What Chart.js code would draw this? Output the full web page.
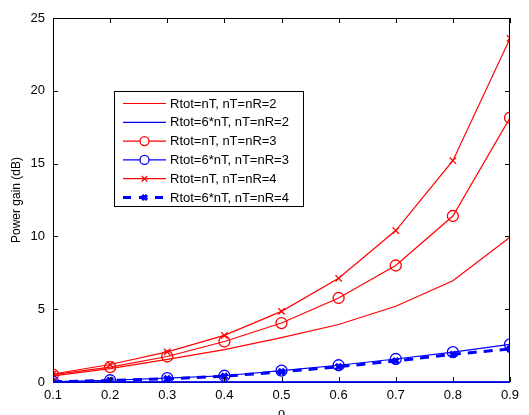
<!DOCTYPE html>
<html>
<head>
<meta charset="utf-8">
<script src="https://cdn.jsdelivr.net/npm/chart.js@4/dist/chart.umd.min.js"></script>
<style>
  html, body { margin: 0; padding: 0; background: #fff; }
  #wrap { width: 529px; height: 415px; }
</style>
</head>
<body>
<div id="wrap"><canvas id="chart" width="529" height="415"></canvas></div>
<script>
// data
const rho = [0.1, 0.2, 0.3, 0.4, 0.5, 0.6, 0.7, 0.8, 0.9];
const nT2_tot = [0.42, 0.92, 1.55, 2.22, 3.05, 3.95, 5.2, 6.95, 9.95];
const nT2_six = [0, 0, 0, 0, 0, 0, 0, 0, 0];
const nT3_tot = [0.5, 1.02, 1.75, 2.78, 4.05, 5.77, 8.0, 11.4, 18.15];
const nT3_six = [0.03, 0.12, 0.26, 0.43, 0.78, 1.15, 1.58, 2.05, 2.58];
const nT4_tot = [0.55, 1.2, 2.07, 3.2, 4.85, 7.12, 10.4, 15.2, 23.6];
const nT4_six = [0.02, 0.1, 0.22, 0.4, 0.7, 1.05, 1.45, 1.9, 2.27];
const yTicks = [0, 5, 10, 15, 20, 25];

const RED = '#ff0000';
const BLUE = '#0000ff';
const FONT = 'Liberation Sans, Arial, Helvetica, sans-serif';

function pts(arr) {
  return arr.map((v, i) => ({ x: rho[i], y: v }));
}

const datasets = [
  { label: 'Rtot=nT, nT=nR=2', data: pts(nT2_tot), borderColor: RED, borderWidth: 1.2, pointRadius: 0 },
  { label: 'Rtot=6*nT, nT=nR=2', data: pts(nT2_six), borderColor: BLUE, borderWidth: 1.2, pointRadius: 0 },
  { label: 'Rtot=nT, nT=nR=3', data: pts(nT3_tot), borderColor: RED, borderWidth: 1.2,
    pointStyle: 'circle', pointRadius: 5.5, pointBorderWidth: 1.3, pointBackgroundColor: 'rgba(0,0,0,0)' },
  { label: 'Rtot=6*nT, nT=nR=3', data: pts(nT3_six), borderColor: BLUE, borderWidth: 1.2,
    pointStyle: 'circle', pointRadius: 5.5, pointBorderWidth: 1.3, pointBackgroundColor: 'rgba(0,0,0,0)' },
  { label: 'Rtot=nT, nT=nR=4', data: pts(nT4_tot), borderColor: RED, borderWidth: 1.2,
    pointStyle: 'crossRot', pointRadius: 4.5, pointBorderWidth: 1.3 },
  { label: 'Rtot=6*nT, nT=nR=4', data: pts(nT4_six), borderColor: BLUE, borderWidth: 3, borderDash: [9, 7],
    pointStyle: 'crossRot', pointRadius: 4, pointBorderWidth: 3.2 }
];
datasets.forEach(d => {
  d.backgroundColor = d.borderColor;
  d.pointBorderColor = d.borderColor;
  d.fill = false;
  d.tension = 0;
});

// matlab-style box with inward ticks and an inset legend
const matlabFrame = {
  id: 'matlabFrame',
  afterDraw(chart) {
    const { ctx, chartArea: a, scales } = chart;
    ctx.save();
    ctx.strokeStyle = '#000';
    ctx.lineWidth = 1;
    ctx.strokeRect(a.left + 0.5, a.top + 0.5, a.right - a.left - 1, a.bottom - a.top);
    const tl = 5;
    ctx.beginPath();
    rho.forEach(v => {
      const x = Math.round(scales.x.getPixelForValue(v)) + 0.5;
      ctx.moveTo(x, a.bottom); ctx.lineTo(x, a.bottom - tl);
      ctx.moveTo(x, a.top); ctx.lineTo(x, a.top + tl);
    });
    yTicks.forEach(v => {
      const y = Math.round(scales.y.getPixelForValue(v)) + 0.5;
      ctx.moveTo(a.left, y); ctx.lineTo(a.left + tl, y);
      ctx.moveTo(a.right, y); ctx.lineTo(a.right - tl, y);
    });
    ctx.stroke();

    // redraw the nT=2 blue line over the bottom frame
    const meta = chart.getDatasetMeta(1);
    ctx.strokeStyle = BLUE;
    ctx.lineWidth = 1.5;
    ctx.beginPath();
    meta.data.forEach((p, i) => { i ? ctx.lineTo(p.x, p.y) : ctx.moveTo(p.x, p.y); });
    ctx.stroke();

    // x axis label
    ctx.fillStyle = '#000';
    ctx.font = '13px ' + FONT;
    ctx.textAlign = 'center';
    ctx.textBaseline = 'top';
    ctx.fillText('\u03c1', (a.left + a.right) / 2, 407);

    // legend
    const bx = 114, by = 91, bw = 189, bh = 115;
    ctx.fillStyle = '#fff';
    ctx.fillRect(bx, by, bw, bh);
    ctx.strokeStyle = '#000';
    ctx.lineWidth = 1;
    ctx.strokeRect(bx + 0.5, by + 0.5, bw, bh);
    ctx.font = '13px ' + FONT;
    ctx.textAlign = 'left';
    ctx.textBaseline = 'middle';
    chart.data.datasets.forEach((d, i) => {
      const y = 103.5 + i * 18.8;
      ctx.save();
      ctx.strokeStyle = d.borderColor;
      ctx.lineWidth = d.borderWidth;
      ctx.setLineDash(d.borderDash ? [8, 8] : []);
      ctx.beginPath();
      ctx.moveTo(123, y); ctx.lineTo(166, y);
      ctx.stroke();
      ctx.restore();
      if (d.pointRadius > 0) {
        const r = d.pointStyle === 'circle' ? 4.5 : d.pointRadius - 0.5;
        ctx.save();
        ctx.strokeStyle = d.borderColor;
        ctx.fillStyle = '#fff';
        ctx.lineWidth = d.pointBorderWidth;
        Chart.helpers.drawPoint(ctx, { pointStyle: d.pointStyle, radius: r, borderWidth: d.pointBorderWidth, rotation: 0 }, 144.5, y);
        ctx.restore();
      }
      ctx.fillStyle = '#000';
      ctx.fillText(d.label, 170, y + 0.5);
    });
    ctx.restore();
  }
};

new Chart(document.getElementById('chart'), {
  type: 'line',
  data: { datasets: datasets },
  plugins: [matlabFrame],
  options: {
    responsive: false,
    animation: false,
    devicePixelRatio: 1,
    layout: { padding: { top: 18, right: 19, left: 0, bottom: 0 } },
    plugins: {
      legend: { display: false },
      tooltip: { enabled: false }
    },
    scales: {
      x: {
        type: 'linear',
        min: 0.1,
        max: 0.9,
        afterFit: s => { s.height = 33; },
        afterBuildTicks: s => { s.ticks = rho.map(v => ({ value: v })); },
        grid: { display: false, drawTicks: false },
        border: { display: false },
        ticks: {
          color: '#000',
          padding: 6,
          font: { family: FONT, size: 13 },
          maxRotation: 0,
          callback: v => (+v).toFixed(1)
        }
      },
      y: {
        min: 0,
        max: 25,
        afterFit: s => { s.width = 53; },
        afterBuildTicks: s => { s.ticks = yTicks.map(v => ({ value: v })); },
        grid: { display: false, drawTicks: false },
        border: { display: false },
        title: {
          display: true,
          text: 'Power gain (dB)',
          color: '#000',
          font: { family: FONT, size: 12 },
          padding: { top: 9, bottom: 0 }
        },
        ticks: {
          color: '#000',
          padding: 8,
          font: { family: FONT, size: 13 }
        }
      }
    }
  }
});
</script>
</body>
</html>
